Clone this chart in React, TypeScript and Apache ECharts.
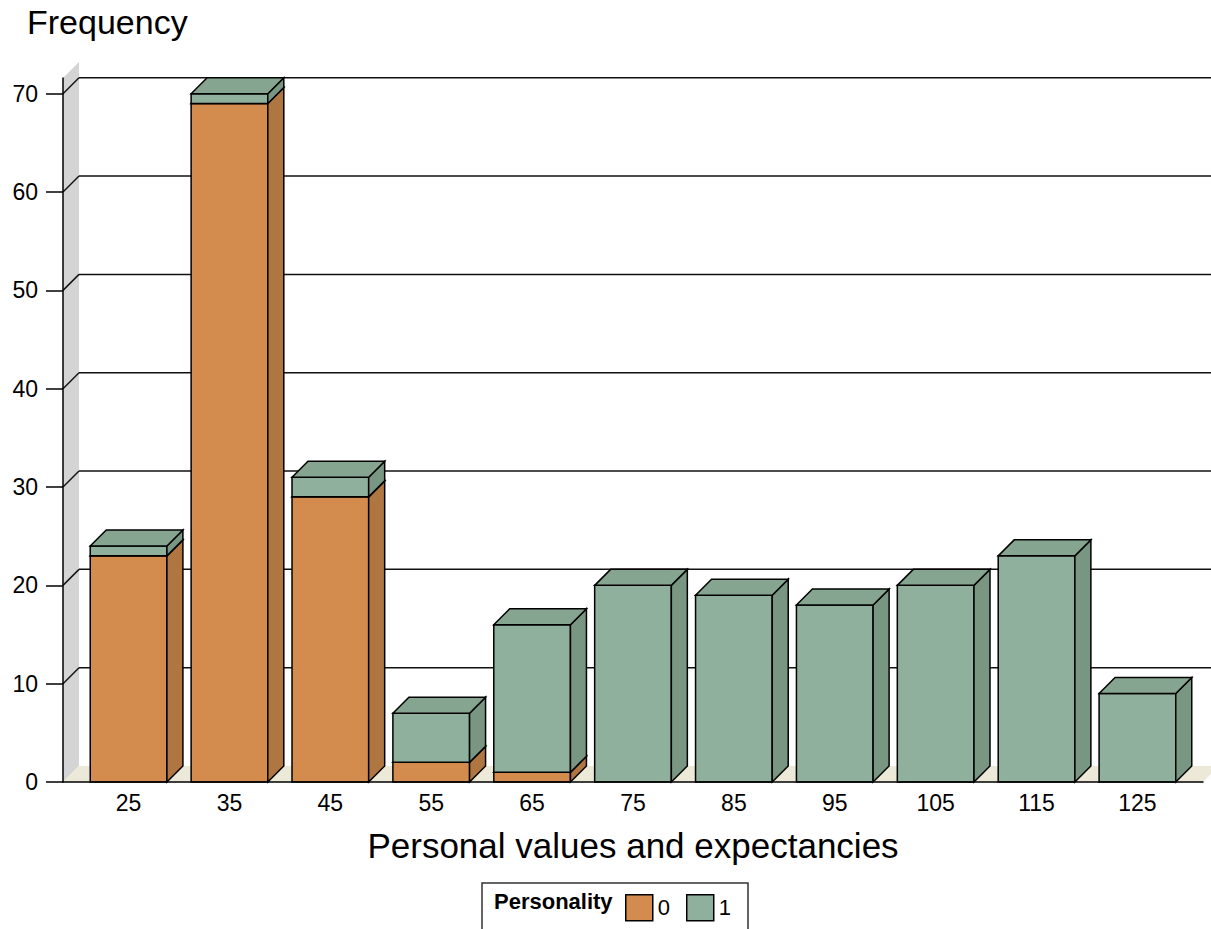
import React, { useEffect, useRef } from "react";
import * as echarts from "echarts";

const categories = [25, 35, 45, 55, 65, 75, 85, 95, 105, 115, 125];
const series0 = [23, 69, 29, 2, 1, 0, 0, 0, 0, 0, 0];
const series1 = [1, 1, 2, 5, 15, 20, 19, 18, 20, 23, 9];
const yTicks = [0, 10, 20, 30, 40, 50, 60, 70];
const seriesNames = ["0", "1"];

const FONT = "'Liberation Sans', Arial, sans-serif";
const D = 16; // depth in px
const BW = 7.6; // bar width in x units

const COLORS = [
  { front: "#D48C4E", side: "#B07642", top: "#C9844A" },
  { front: "#8EB09C", side: "#789682", top: "#86A591" },
];

function makeBarRender(ci: number) {
  return (params: any, api: any) => {
    const x = api.value(0);
    const b = api.value(1);
    const t = api.value(2);
    if (!(t - b > 0)) return null;
    const p0 = api.coord([x - BW / 2, b]);
    const p1 = api.coord([x + BW / 2, t]);
    const xl = p0[0], yb = p0[1], xr = p1[0], yt = p1[1];
    const c = COLORS[ci];
    const stroke = { stroke: "#000", lineWidth: 1.5 };
    return {
      type: "group",
      children: [
        {
          type: "rect",
          shape: { x: xl, y: yt, width: xr - xl, height: yb - yt },
          style: { fill: c.front, ...stroke },
        },
        {
          type: "polygon",
          shape: { points: [[xr, yb], [xr + D, yb - D], [xr + D, yt - D], [xr, yt]] },
          style: { fill: c.side, ...stroke },
        },
        {
          type: "polygon",
          shape: { points: [[xl, yt], [xl + D, yt - D], [xr + D, yt - D], [xr, yt]] },
          style: { fill: c.top, ...stroke },
        },
      ],
    };
  };
}

export default function App() {
  const ref = useRef<HTMLDivElement>(null);
  useEffect(() => {
    if (!ref.current) return;
    const chart = echarts.init(ref.current, null, { renderer: "svg" });
    const data0 = categories.map((c, i) => [c, 0, series0[i]]);
    const data1 = categories.map((c, i) => [c, series0[i], series0[i] + series1[i]]);
    const option: any = {
      animation: false,
      backgroundColor: "#fff",
      grid: { left: 63, top: 78, width: 1140, height: 704, containLabel: false },
      xAxis: {
        type: "value",
        min: 18.5,
        max: 131.5,
        z: 5,
        axisLine: { show: true, lineStyle: { color: "#000", width: 1.5 } },
        axisTick: { show: false },
        splitLine: { show: false },
        axisLabel: {
          customValues: categories,
          fontSize: 23,
          fontFamily: FONT,
          color: "#000",
          margin: 9,
        },
        name: "Personal values and expectancies",
        nameLocation: "middle",
        nameGap: 63,
        nameTextStyle: { fontSize: 35, fontFamily: FONT, color: "#000", verticalAlign: "middle" },
      },
      yAxis: {
        type: "value",
        min: 0,
        max: 71.6,
        z: 5,
        axisLine: { show: true, lineStyle: { color: "#000", width: 1.5 } },
        axisTick: { show: true, customValues: yTicks, length: 17, lineStyle: { color: "#000", width: 1.5 } },
        splitLine: { show: false },
        axisLabel: {
          customValues: yTicks,
          fontSize: 23,
          fontFamily: FONT,
          color: "#000",
          margin: 25,
        },
      },
      legend: {
        left: 625,
        top: 894,
        padding: 0,
        itemWidth: 27,
        itemHeight: 26,
        itemGap: 16,
        textStyle: { fontSize: 22, fontFamily: FONT, color: "#000" },
        itemStyle: { borderColor: "#000", borderWidth: 1.5 },
        data: [
          { name: "0", icon: "rect", itemStyle: { color: COLORS[0].front } },
          { name: "1", icon: "rect", itemStyle: { color: COLORS[1].front } },
        ],
      },
      graphic: [
        {
          type: "text",
          left: 27,
          top: 5,
          style: { text: "Frequency", fontSize: 34, fontFamily: FONT, fill: "#000" },
        },
        {
          type: "rect",
          shape: { x: 482, y: 883, width: 266, height: 70 },
          style: { fill: "none", stroke: "#333", lineWidth: 1.5 },
        },
        {
          type: "text",
          x: 494,
          y: 901,
          style: {
            text: "Personality",
            fontSize: 22,
            fontWeight: "bold",
            fontFamily: FONT,
            fill: "#000",
            verticalAlign: "middle",
          },
        },
      ],
      series: [
        {
          type: "custom",
          name: "backdrop",
          silent: true,
          clip: false,
          z: 1,
          data: [[0]],
          renderItem: (params: any) => {
            const cs = params.coordSys;
            const L = cs.x, T = cs.y, R = cs.x + cs.width, B = cs.y + cs.height;
            return {
              type: "group",
              children: [
                {
                  type: "polygon",
                  shape: { points: [[L, B], [L + D, B - D], [L + D, T - D], [L, T]] },
                  style: { fill: "#D4D4D4" },
                },
                {
                  type: "polygon",
                  shape: { points: [[L, B], [L + D, B - D], [R + D, B - D], [R, B]] },
                  style: { fill: "#ECE9D8" },
                },
              ],
            };
          },
        },
        {
          type: "custom",
          name: "gridlines",
          silent: true,
          clip: false,
          z: 1,
          data: yTicks.filter((v) => v > 0).map((v) => [v]),
          renderItem: (params: any, api: any) => {
            const v = api.value(0);
            const cs = params.coordSys;
            const pL = api.coord([18.5, v]);
            const R = cs.x + cs.width;
            const st = { stroke: "#111", lineWidth: 1.5 };
            return {
              type: "group",
              children: [
                { type: "line", shape: { x1: pL[0], y1: pL[1], x2: pL[0] + D, y2: pL[1] - D }, style: st },
                { type: "line", shape: { x1: pL[0] + D, y1: pL[1] - D, x2: R + D, y2: pL[1] - D }, style: st },
              ],
            };
          },
        },
        {
          type: "custom",
          name: seriesNames[0],
          clip: false,
          z: 2,
          itemStyle: { color: COLORS[0].front },
          encode: { x: 0, y: [1, 2] },
          data: data0,
          renderItem: makeBarRender(0),
        },
        {
          type: "custom",
          name: seriesNames[1],
          clip: false,
          z: 2,
          itemStyle: { color: COLORS[1].front },
          encode: { x: 0, y: [1, 2] },
          data: data1,
          renderItem: makeBarRender(1),
        },
      ],
    };
    chart.setOption(option);
    return () => chart.dispose();
  }, []);
  return <div ref={ref} style={{ width: 1211, height: 929, position: "absolute", left: 0, top: 0 }} />;
}
